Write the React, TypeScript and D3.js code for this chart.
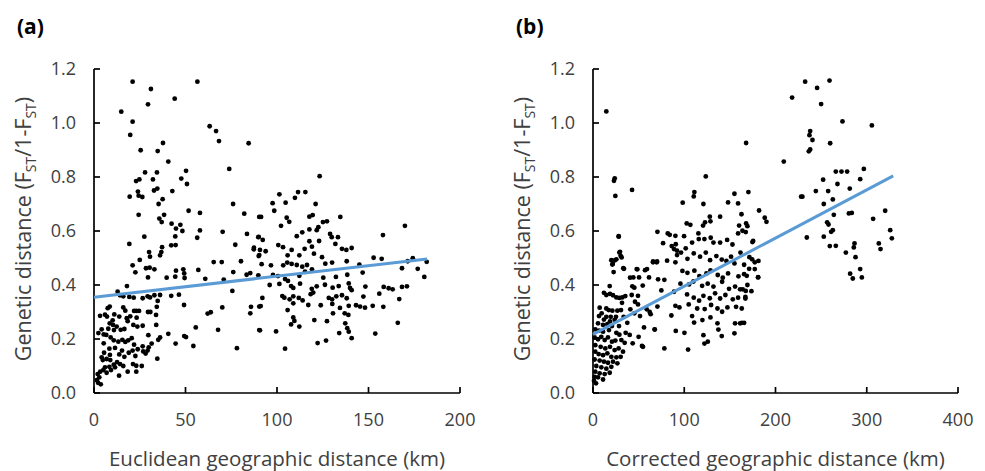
import React from 'react';
import * as d3 from 'd3';

// panel (a): euclidean distance (km) vs genetic distance
const pointsA: [number, number][] = [
  [21.1, 1.153], [31.1, 1.126], [56.5, 1.153], [44.1, 1.09], [29.5, 1.069], [14.9, 1.042], [21.1, 1.005],
  [19.8, 0.956], [63.2, 0.988], [66.7, 0.97], [68.3, 0.933], [84.5, 0.925], [25.5, 0.899], [34.8, 0.896],
  [37.7, 0.926], [40.6, 0.857], [73.9, 0.83], [50.3, 0.823], [27.9, 0.817], [34.4, 0.817], [23, 0.785],
  [24.8, 0.791], [32.2, 0.791], [47.7, 0.794], [50.8, 0.774], [32.8, 0.75], [34.6, 0.757], [42.8, 0.748],
  [19.5, 0.727], [24, 0.746], [24.4, 0.731], [26.4, 0.726], [37.5, 0.718], [35.3, 0.7], [76, 0.7],
  [24.4, 0.66], [51.7, 0.675], [57.9, 0.667], [82.1, 0.664], [35.7, 0.646], [37, 0.633], [38.3, 0.66],
  [42.4, 0.627], [47.2, 0.623], [44.8, 0.609], [48.3, 0.6], [57.9, 0.602], [70.3, 0.597], [83.6, 0.589],
  [90, 0.578], [90.3, 0.652], [27.5, 0.579], [44.4, 0.58], [56.4, 0.575],
  [19.3, 0.552], [77.2, 0.549], [87.4, 0.538], [30.1, 0.522], [37.2, 0.54], [36.8, 0.522], [36.1, 0.51],
  [42.2, 0.547], [44.6, 0.548], [25, 0.493], [30.6, 0.505], [21.1, 0.473], [22.6, 0.447], [28.4, 0.462],
  [30.4, 0.464], [33, 0.458], [29.5, 0.428], [39.7, 0.427], [44.4, 0.431], [44.8, 0.453], [48.8, 0.458],
  [49.3, 0.443], [49.5, 0.426], [57, 0.456], [60.8, 0.423], [65.4, 0.485], [69.8, 0.485], [70.9, 0.42],
  [76.1, 0.448], [80.3, 0.488], [83.4, 0.438], [85.4, 0.444], [89.8, 0.436], [90.3, 0.511],
  [12.9, 0.375], [18, 0.396], [14.2, 0.362], [16, 0.358], [19.3, 0.356], [21.7, 0.353], [26.6, 0.351],
  [29.3, 0.358], [30.6, 0.354], [33, 0.362], [34.8, 0.341], [36.1, 0.363], [42.2, 0.36], [46.4, 0.364],
  [49.2, 0.326], [7.5, 0.314], [8.6, 0.32], [16, 0.317], [17.1, 0.305], [21.9, 0.304], [23.1, 0.304],
  [24.6, 0.304], [29.5, 0.3], [30.8, 0.3], [34.3, 0.319], [33.9, 0.289], [3.3, 0.286], [6, 0.29],
  [7.1, 0.283], [11.1, 0.291], [13.8, 0.283], [17.9, 0.277], [18.4, 0.266], [19.8, 0.284], [23.3, 0.279],
  [21.5, 0.252], [23.7, 0.246], [26.6, 0.249], [34, 0.252], [62.1, 0.294], [63.8, 0.299], [70.1, 0.317],
  [75.6, 0.378], [85.8, 0.319], [85.4, 0.295], [90.3, 0.32], [8.6, 0.258], [10.2, 0.269], [10.4, 0.252],
  [12.4, 0.246], [14.6, 0.234], [16.6, 0.237], [7.8, 0.238], [10.9, 0.233], [4.2, 0.236], [2.4, 0.222],
  [5.3, 0.217], [6.7, 0.215], [9.1, 0.206], [10.8, 0.195], [13.3, 0.19], [15.5, 0.197], [17.1, 0.189],
  [18.7, 0.195], [20.6, 0.203], [21.9, 0.179], [23.9, 0.162], [26.6, 0.173], [29.7, 0.214], [31.5, 0.183],
  [29.9, 0.169], [35.1, 0.197], [36.1, 0.206], [40.6, 0.219], [44.6, 0.183], [49.3, 0.211], [50.3, 0.207],
  [55.6, 0.243], [54.3, 0.174], [67.8, 0.234], [78.1, 0.166], [90.3, 0.233], [5.3, 0.184], [8.4, 0.164],
  [5.5, 0.149], [8.7, 0.141], [11.5, 0.167], [13.8, 0.143], [15.3, 0.157], [16.6, 0.134], [19, 0.149],
  [21.1, 0.157], [22.6, 0.137], [26.9, 0.154], [28.2, 0.146], [29.3, 0.157], [34.6, 0.127], [4.2, 0.132],
  [4.8, 0.122], [6.9, 0.126], [8.9, 0.122], [10.8, 0.105], [12.6, 0.114], [14.2, 0.107], [16, 0.1],
  [21.3, 0.107], [23.1, 0.101], [26.1, 0.1], [6, 0.095], [8.4, 0.097], [11.5, 0.095], [3.4, 0.079],
  [5.1, 0.085], [6.9, 0.075], [9.3, 0.085], [13.7, 0.064], [18.4, 0.079], [23.1, 0.079], [2, 0.07],
  [2.9, 0.058], [1.5, 0.048], [3.7, 0.032], [2.2, 0.038],
  [123.3, 0.803], [101.3, 0.736], [111.5, 0.744], [115.5, 0.744], [104.7, 0.705], [109.8, 0.723],
  [97.6, 0.703], [98.5, 0.675], [121.1, 0.7], [91.3, 0.652], [105.3, 0.649], [106.7, 0.634], [102.2, 0.619],
  [117.7, 0.653], [119.5, 0.659], [134.6, 0.652], [125.1, 0.633], [127.3, 0.636], [122.6, 0.614],
  [121.7, 0.603], [117.7, 0.606], [113.8, 0.595], [110.8, 0.581], [129, 0.589], [129.9, 0.577],
  [133.3, 0.577], [169.9, 0.619], [157.9, 0.585], [92.2, 0.567], [89.8, 0.577], [117.7, 0.562], [123, 0.563],
  [100.7, 0.548], [103.3, 0.54], [108, 0.53], [115.1, 0.534], [119.1, 0.542], [120.2, 0.516], [131.9, 0.552],
  [135.5, 0.534], [137.9, 0.53], [140.8, 0.537], [87.3, 0.532], [90.7, 0.53], [93.8, 0.525], [90, 0.507],
  [105.8, 0.51], [112.2, 0.51], [124.6, 0.503], [91.6, 0.477], [96.7, 0.473], [103.4, 0.473], [105.6, 0.483],
  [108, 0.478], [110.8, 0.474], [113.8, 0.468], [116.4, 0.474], [119.1, 0.458], [126.4, 0.479], [130.1, 0.483],
  [138.1, 0.488], [145, 0.475], [152.8, 0.501], [157.2, 0.497], [174.2, 0.499], [171.4, 0.488], [168.3, 0.462],
  [176.9, 0.46], [180.5, 0.43], [181.8, 0.486], [97.8, 0.437], [100.5, 0.433], [104.4, 0.422], [106, 0.415],
  [112.2, 0.434], [115.3, 0.449], [125.3, 0.427], [132.2, 0.43], [138.4, 0.438], [146.8, 0.446], [96, 0.4],
  [101.3, 0.404], [107.7, 0.396], [108.9, 0.389], [112.6, 0.405], [119, 0.386], [121.7, 0.395], [126.2, 0.401],
  [130.4, 0.39], [133.7, 0.396], [139.2, 0.406], [139.9, 0.389], [140.8, 0.381], [148.3, 0.394], [158.3, 0.393],
  [161, 0.388], [163.2, 0.384], [168.3, 0.393], [171, 0.395], [155.9, 0.368], [166.8, 0.348], [92, 0.352],
  [102.9, 0.359], [104, 0.353], [106.9, 0.347], [108.9, 0.358], [111.9, 0.352], [114, 0.343], [118.4, 0.366],
  [119.8, 0.372], [123.9, 0.325], [128.3, 0.352], [130.1, 0.347], [132.4, 0.358], [135.5, 0.362], [138.1, 0.351],
  [147.2, 0.357], [108.9, 0.332], [117.1, 0.326], [91.1, 0.322], [130.2, 0.33], [134.4, 0.315], [139.2, 0.323],
  [143.2, 0.325], [145.4, 0.32], [148.1, 0.316], [152.3, 0.323], [158.1, 0.319], [105.8, 0.307], [130.6, 0.295],
  [137, 0.295], [139, 0.289], [120.4, 0.27], [127.3, 0.266], [108.9, 0.28], [109.5, 0.267], [107.7, 0.254],
  [112.2, 0.246], [137.3, 0.258], [138.4, 0.24], [90.7, 0.232], [99.5, 0.228], [134, 0.222], [139.2, 0.227],
  [153.7, 0.22], [166, 0.26], [140.8, 0.203], [126.8, 0.194], [122.2, 0.185], [104.4, 0.164],
];

// panel (b): corrected distance (km) vs genetic distance
const pointsB: [number, number][] = [
  [14.6, 1.043], [167.8, 0.926], [123.6, 0.802], [23.8, 0.795], [23, 0.786], [42.8, 0.752], [24.5, 0.73],
  [111.1, 0.744], [110.4, 0.728], [155, 0.738], [170.3, 0.744], [98.3, 0.705], [121, 0.7], [148, 0.706],
  [159, 0.702], [182, 0.676], [28.2, 0.579], [28.9, 0.52], [30.3, 0.508], [20.1, 0.492], [25.6, 0.495],
  [21.6, 0.478], [34, 0.46], [47.9, 0.459], [50.5, 0.428], [59.2, 0.459], [70.6, 0.597], [65.8, 0.487],
  [70.2, 0.487], [81.9, 0.591], [84.1, 0.586], [90.3, 0.582], [90.7, 0.551], [86.3, 0.544], [88.8, 0.533],
  [92.1, 0.527], [92.1, 0.511], [76.8, 0.555], [81.2, 0.49], [90.3, 0.484], [102.7, 0.628], [106.7, 0.623],
  [99.8, 0.581], [108.6, 0.557], [115.5, 0.591], [120.6, 0.62], [122.8, 0.632], [128, 0.653], [139.3, 0.653],
  [128.7, 0.636], [115.9, 0.57], [122.1, 0.57], [129, 0.575], [132, 0.557], [139.3, 0.557], [147, 0.567],
  [152.8, 0.55], [159, 0.591], [163.8, 0.601], [160.1, 0.62], [167.8, 0.628], [174.7, 0.559], [161.6, 0.52],
  [171.4, 0.503], [177.3, 0.484], [165.6, 0.475], [171.1, 0.46], [181, 0.429], [96.5, 0.52], [101.6, 0.536],
  [103.5, 0.497], [110.4, 0.517], [117.3, 0.505], [123.6, 0.52], [128.3, 0.492], [135.2, 0.507], [141.1, 0.494],
  [146.2, 0.489], [151.3, 0.505], [155, 0.48], [98, 0.452], [103.5, 0.445], [111.1, 0.453], [116.6, 0.433],
  [124.3, 0.443], [128.7, 0.454], [136.7, 0.437], [142.2, 0.427], [148, 0.443], [159.4, 0.432], [168.5, 0.434],
  [78.2, 0.419], [95.8, 0.405], [105.3, 0.402], [110.1, 0.413], [119.6, 0.397], [125.7, 0.405], [132, 0.394],
  [141.5, 0.412], [149.1, 0.386], [155.7, 0.394], [161.2, 0.384], [167.4, 0.378], [54.5, 0.398], [45.3, 0.39],
  [74.9, 0.38], [88.8, 0.375], [103.1, 0.365], [110.4, 0.353], [116.3, 0.342], [121, 0.36], [128, 0.351],
  [133.8, 0.369], [139.3, 0.35], [145.1, 0.363], [153.2, 0.347], [159, 0.353], [167, 0.356], [90.3, 0.323],
  [94.7, 0.317], [104.9, 0.328], [114.2, 0.313], [122.4, 0.311], [129.4, 0.326], [136.4, 0.313], [141.5, 0.301],
  [147.3, 0.317], [156.8, 0.319], [163, 0.313], [51.5, 0.285], [58.9, 0.31], [70.6, 0.32], [85.9, 0.287],
  [108.6, 0.285], [110.8, 0.261], [119.9, 0.27], [128.7, 0.28], [136.4, 0.258], [155.7, 0.258], [161.2, 0.258],
  [137.4, 0.235], [141.1, 0.211], [155, 0.221], [121, 0.214], [125.8, 0.19], [122.1, 0.183], [90.7, 0.23],
  [100.2, 0.223], [67.6, 0.235], [54.8, 0.171], [78.2, 0.165], [104.2, 0.161],
  [28.1, 0.581], [29.6, 0.523], [31.4, 0.502], [21.2, 0.476], [23.7, 0.491], [22.6, 0.448], [33.2, 0.462],
  [40.6, 0.427], [44.2, 0.428], [48.6, 0.458], [57, 0.455], [61.4, 0.428], [65.8, 0.484], [69.8, 0.484],
  [71.3, 0.421], [43.1, 0.395], [18.3, 0.396], [12, 0.371], [14.6, 0.363], [18.6, 0.367], [21.9, 0.362],
  [25.6, 0.354], [28.9, 0.352], [32.1, 0.354], [35.4, 0.359], [42.4, 0.363], [49.3, 0.36], [46, 0.338],
  [31.8, 0.334], [49.3, 0.328], [7.3, 0.316], [9.5, 0.295], [14.6, 0.313], [17.2, 0.307], [21.2, 0.305],
  [26.7, 0.305], [30.7, 0.307], [40.9, 0.31], [45.3, 0.295], [6.6, 0.285], [14.6, 0.282], [19.4, 0.282],
  [25.2, 0.282], [33.6, 0.282], [63.2, 0.292], [62.1, 0.3], [12, 0.272], [18.6, 0.265], [23.7, 0.271],
  [5.5, 0.258], [11, 0.252], [15.7, 0.255], [20.8, 0.248], [28.5, 0.248], [37.6, 0.26], [55.9, 0.243],
  [67.6, 0.236], [2.5, 0.236], [6.6, 0.231], [11, 0.227], [17.5, 0.233], [25.6, 0.223], [28.9, 0.216],
  [35.8, 0.223], [40.2, 0.215], [50, 0.208], [1.8, 0.206], [5.5, 0.199], [9.1, 0.208], [12.8, 0.196],
  [16.4, 0.206], [20.8, 0.19], [24.5, 0.194], [31.1, 0.196], [34.7, 0.186], [43.5, 0.184], [53.7, 0.174],
  [2.5, 0.177], [8.4, 0.171], [13.5, 0.165], [18.6, 0.171], [23.7, 0.159], [28.1, 0.165], [32.9, 0.153],
  [2.5, 0.153], [6.2, 0.144], [11, 0.14], [15.7, 0.147], [20.1, 0.134], [25.6, 0.132], [30.3, 0.134],
  [1.8, 0.124], [7.3, 0.12], [12, 0.116], [16.4, 0.112], [21.9, 0.116], [26.7, 0.11], [3.6, 0.1],
  [9.1, 0.095], [14.6, 0.09], [20.1, 0.097], [2.5, 0.079], [7.3, 0.073], [12.8, 0.07], [18.3, 0.075],
  [1.8, 0.06], [5.5, 0.058], [3.3, 0.036], [11, 0.05], [1.1, 0.045],
  [232.5, 1.153], [259.2, 1.157], [245.6, 1.13], [218.2, 1.094], [250, 1.07], [273.4, 1.006], [305.6, 0.991],
  [238, 0.97], [237.2, 0.955], [240.5, 0.937], [238, 0.902], [236.5, 0.895], [259.9, 0.925], [209.1, 0.857],
  [266.1, 0.82], [272.3, 0.82], [278.5, 0.82], [296.8, 0.83], [292.8, 0.792], [252.2, 0.79], [267.9, 0.774],
  [281.4, 0.757], [244.2, 0.748], [257.7, 0.748], [228.1, 0.727], [229.5, 0.727], [252.9, 0.7], [262.8, 0.717],
  [263.9, 0.66], [280.4, 0.665], [283.6, 0.667], [320.2, 0.675], [307, 0.645], [256.6, 0.632], [258.1, 0.624],
  [262.8, 0.603], [261, 0.597], [234.3, 0.576], [252.9, 0.579], [259.5, 0.544], [266.1, 0.545], [277.1, 0.52],
  [286.6, 0.554], [285.8, 0.539], [287.7, 0.503], [313.2, 0.554], [315.1, 0.533], [325.7, 0.603], [327.5, 0.573],
  [281.8, 0.442], [284.7, 0.424], [292.8, 0.459], [294.6, 0.428], [188.2, 0.649], [190.1, 0.634], [162.7, 0.662],
  [169.2, 0.618], [167.4, 0.596], [175.5, 0.563], [181.3, 0.489], [174.4, 0.495], [177.3, 0.459], [180.9, 0.428],
  [165.6, 0.44], [169.2, 0.4], [164.1, 0.384], [173.6, 0.377], [167, 0.35], [165.6, 0.26], [163, 0.26],
];

// fitted trend lines, read as end points
const trendA: [number, number][] = [[0, 0.355], [182, 0.496]];
const trendB: [number, number][] = [[0, 0.217], [329, 0.804]];

const yTicks = [0, 0.2, 0.4, 0.6, 0.8, 1.0, 1.2];
const xTicksA = [0, 50, 100, 150, 200];
const xTicksB = [0, 100, 200, 300, 400];

const FONT = '"Open Sans", Lato, sans-serif';
const TEXT = '#404040';

function Panel({points, trend, xTicks, xMax, left, right, tag, xTitle}: any) {
  const top = 69, bottom = 393;
  const x = d3.scaleLinear().domain([0, xMax]).range([left, right]);
  const y = d3.scaleLinear().domain([0, 1.2]).range([bottom, top]);
  const line = d3.line<[number, number]>().x(d => x(d[0])).y(d => y(d[1]));
  const mid = 229;

  return (
    <g>
      <text x={left - 77} y={34} fontFamily={FONT} fontWeight="bold" fontSize={21} fill="#000">{tag}</text>

      {/* y axis, ticks point inward */}
      <line x1={left} x2={left} y1={top} y2={bottom} stroke="#000" strokeWidth={1.7} />
      {yTicks.map(t => (
        <g key={t}>
          <line x1={left} x2={left + 6} y1={y(t)} y2={y(t)} stroke="#000" strokeWidth={1.7} />
          <text x={left - 18} y={y(t)} dy="0.36em" textAnchor="end" fontFamily={FONT} fontSize={18} fill={TEXT}>
            {d3.format('.1f')(t)}
          </text>
        </g>
      ))}

      {/* x axis */}
      <line x1={left} x2={right} y1={bottom} y2={bottom} stroke="#000" strokeWidth={1.7} />
      {xTicks.map((t: number) => (
        <g key={t}>
          <line x1={x(t)} x2={x(t)} y1={bottom} y2={bottom - 6} stroke="#000" strokeWidth={1.7} />
          <text x={x(t)} y={420} dy="0.36em" textAnchor="middle" fontFamily={FONT} fontSize={18} fill={TEXT}>{t}</text>
        </g>
      ))}

      <text x={(left + right) / 2} y={466} textAnchor="middle" fontFamily={FONT} fontSize={20.5} fill={TEXT}>
        {xTitle}
      </text>
      <text transform={`translate(${left - 63},${mid}) rotate(-90)`} textAnchor="middle" fontFamily={FONT}
            fontSize={21.5} fill={TEXT}>
        Genetic distance (F<tspan fontSize={14} dy={5}>ST</tspan><tspan dy={-5}>/1-F</tspan>
        <tspan fontSize={14} dy={5}>ST</tspan><tspan dy={-5}>)</tspan>
      </text>

      {points.map((d: [number, number], i: number) => (
        <circle key={i} cx={x(d[0])} cy={y(d[1])} r={2.4} fill="#000" />
      ))}
      <path d={line(trend) || ''} fill="none" stroke="#5B9BD5" strokeWidth={3} />
    </g>
  );
}

export default function App() {
  return (
    <svg width={985} height={471} style={{position: 'absolute', left: 0, top: 0, background: '#fff'}}>
      <rect width={985} height={471} fill="#fff" />
      <Panel points={pointsA} trend={trendA} xTicks={xTicksA} xMax={200} left={94} right={460} tag="(a)"
             xTitle="Euclidean geographic distance (km)" />
      <Panel points={pointsB} trend={trendB} xTicks={xTicksB} xMax={400} left={593} right={958} tag="(b)"
             xTitle="Corrected geographic distance (km)" />
    </svg>
  );
}
